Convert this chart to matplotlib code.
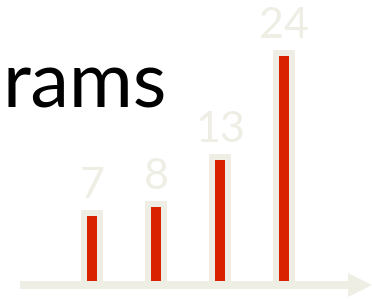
import matplotlib
matplotlib.use("Agg")
from matplotlib import pyplot as plt
from matplotlib.patches import FancyArrow

# values shown above the bars
categories = ["A", "B", "C", "D"]
values = [7, 8, 13, 24]
labels = ["7", "8", "13", "24"]

RED = "#D92200"
BEIGE = "#EFEEE5"

fig = plt.figure(figsize=(3.72, 2.99), dpi=100)
ax = fig.add_axes([0, 0, 1, 1])
ax.set_xlim(-1.4375, 4.375)
ax.set_ylim(-1.8, 30)
ax.axis("off")

x = range(len(categories))
# beige frame around each bar, then the red bar on top
ax.bar(x, values, width=0.156, color=BEIGE, edgecolor=BEIGE, linewidth=8.6, zorder=2)
ax.bar(x, values, width=0.156, color=RED, linewidth=0, zorder=3)

for xi, v, lab in zip(x, values, labels):
    ax.annotate(lab, (xi, v), xytext=(0, 13), textcoords="offset points",
                ha="center", va="baseline", fontsize=31, color=BEIGE,
                family="Lato")

# axis arrow (pixel overlay)
ov = fig.add_axes([0, 0, 1, 1], zorder=5)
ov.set_xlim(0, 372)
ov.set_ylim(0, 299)
ov.axis("off")
ov.patch.set_alpha(0)
ov.add_patch(FancyArrow(20, 14, 352, 0, width=8, head_width=24, head_length=24,
                        length_includes_head=True, color=BEIGE, lw=0))

fig.text(2 / 372, 1 - 108 / 299, "rams", ha="left", va="baseline",
         fontsize=56, color="black", family="Lato")

fig.savefig("out.png", dpi=100)
